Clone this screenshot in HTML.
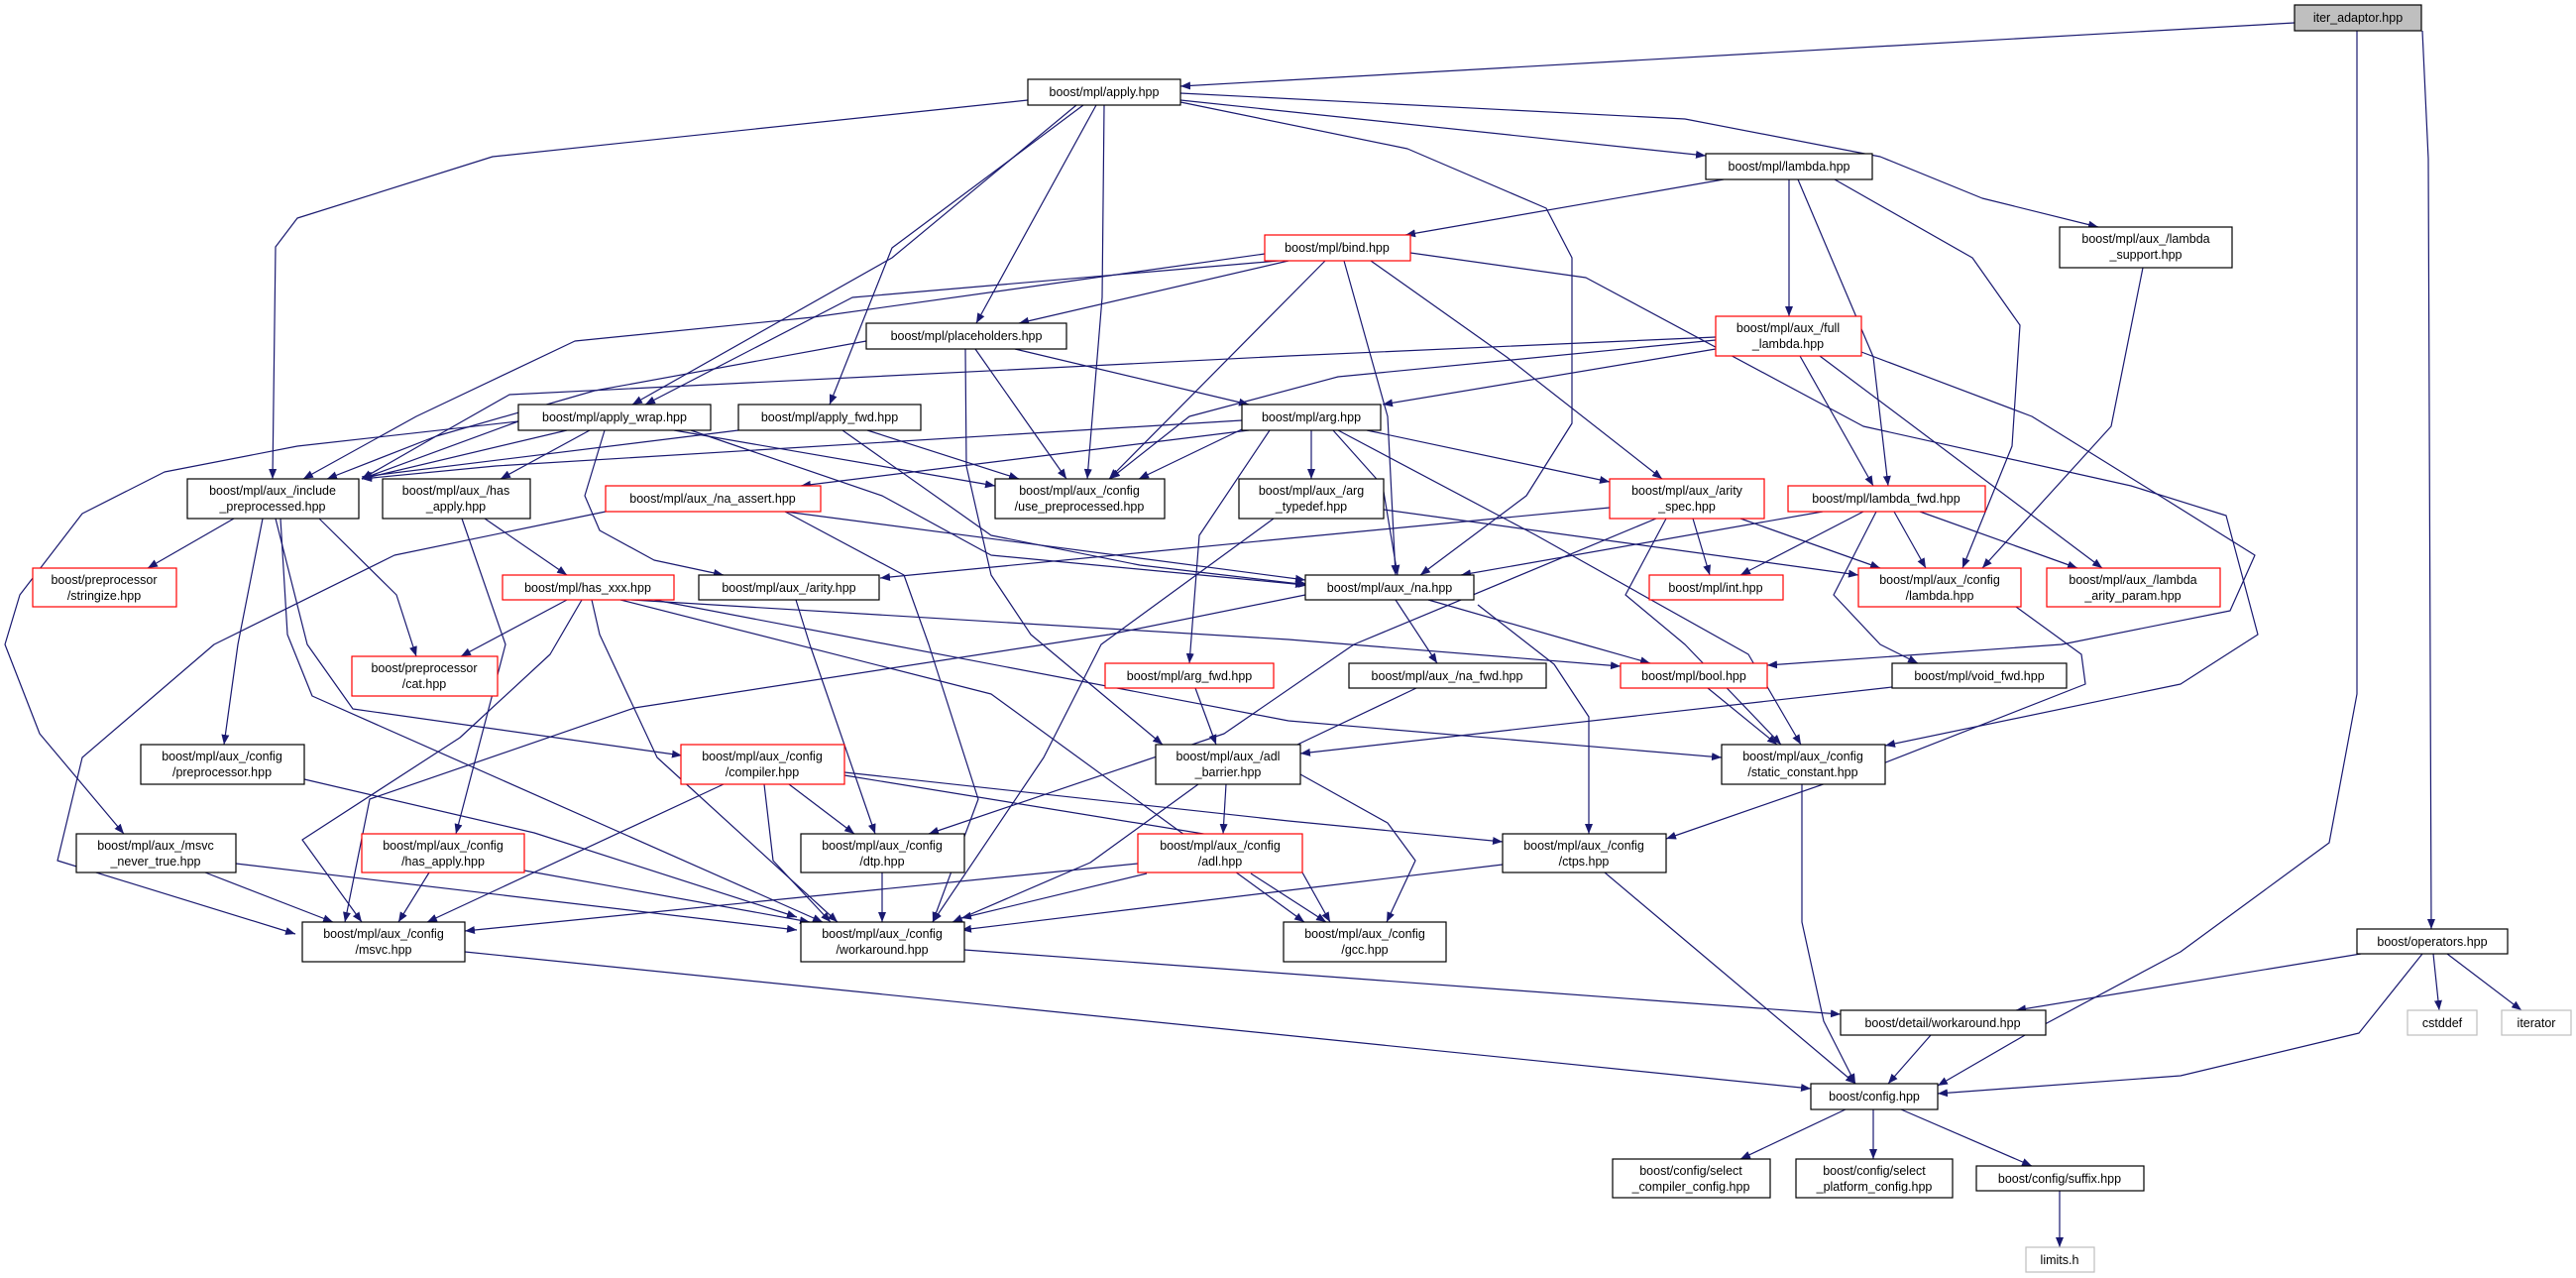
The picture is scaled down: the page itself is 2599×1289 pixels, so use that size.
<!DOCTYPE html>
<html><head><meta charset="utf-8"><style>
html,body{margin:0;padding:0;background:#fff}
svg{display:block}
text{font-family:"Liberation Sans",sans-serif;font-size:12.5px;fill:#000}
.e{fill:none;stroke:#191970;stroke-width:1.2;stroke-linejoin:round;marker-end:url(#a)}
.n{fill:#fff;stroke:#000;stroke-width:1.2}
.r{fill:#fff;stroke:#ff0000;stroke-width:1.2}
.g{fill:#fff;stroke:#bfbfbf;stroke-width:1.2}
</style></head><body>
<svg width="2599" height="1289" viewBox="0 0 2599 1289" xmlns="http://www.w3.org/2000/svg">
<defs><marker id="a" markerWidth="10" markerHeight="8" refX="10" refY="4" orient="auto" markerUnits="userSpaceOnUse"><path d="M0,0 L10,4 L0,8 z" fill="#191970"/></marker></defs>
<g>
<polyline class="e" points="2315,23 1191,87"/>
<polyline class="e" points="2378,31 2378,700 2350,850 2200,960 2050,1040 1955,1095"/>
<polyline class="e" points="2444,31 2450,160 2453,937"/>
<polyline class="e" points="1037,101 497,158 300,220 278,249 275,483"/>
<polyline class="e" points="1086,106 900,260 638,408"/>
<polyline class="e" points="1106,106 985,326"/>
<polyline class="e" points="1114,106 1112,300 1097,483"/>
<polyline class="e" points="1093,106 900,250 837,408"/>
<polyline class="e" points="1191,101 1721,157"/>
<polyline class="e" points="1191,103 1420,150 1560,210 1586,260 1586,427 1540,500 1433,580"/>
<polyline class="e" points="1191,94 1700,120 1897,158 2000,200 2117,229"/>
<polyline class="e" points="1739,181 1418,237"/>
<polyline class="e" points="1805,181 1805,319"/>
<polyline class="e" points="1814,181 1890,360 1905,490"/>
<polyline class="e" points="1851,181 1990,260 2038,328 2030,450 1980,573"/>
<polyline class="e" points="2162,270 2130,430 2000,573"/>
<polyline class="e" points="1300,263 1028,326"/>
<polyline class="e" points="1276,256 820,320 580,344 420,420 306,483"/>
<polyline class="e" points="1290,263 860,300 651,408"/>
<polyline class="e" points="1337,263 1119,483"/>
<polyline class="e" points="1356,263 1400,420 1408,580"/>
<polyline class="e" points="1383,263 1520,360 1677,483"/>
<polyline class="e" points="1423,255 1600,280 1880,430 2150,490 2246,520 2278,640 2200,690 1902,752"/>
<polyline class="e" points="874,344 600,394 440,440 330,483"/>
<polyline class="e" points="984,352 1076,483"/>
<polyline class="e" points="1024,352 1260,408"/>
<polyline class="e" points="974,352 975,470 1000,580 1040,640 1173,751"/>
<polyline class="e" points="1731,340 1300,359 514,398 440,440 365,483"/>
<polyline class="e" points="1731,343 1350,380 1200,420 1120,483"/>
<polyline class="e" points="1731,352 1395,408"/>
<polyline class="e" points="1816,359 1890,490"/>
<polyline class="e" points="1836,359 2121,573"/>
<polyline class="e" points="1878,355 2050,420 2179,500 2275,560 2250,616 2080,650 1783,671"/>
<polyline class="e" points="2034,612 2100,660 2104,690 1900,770 1681,846"/>
<polyline class="e" points="523,425 365,483"/>
<polyline class="e" points="572,434 365,483"/>
<polyline class="e" points="595,434 505,483"/>
<polyline class="e" points="610,434 590,500 605,535 660,565 730,580"/>
<polyline class="e" points="680,434 1004,490"/>
<polyline class="e" points="697,434 890,500 1000,560 1317,590"/>
<polyline class="e" points="523,425 300,450 166,476 83,518 20,600 5,650 40,740 125,841"/>
<polyline class="e" points="745,434 365,481"/>
<polyline class="e" points="875,434 1028,483"/>
<polyline class="e" points="850,434 1000,540 1150,570 1320,590"/>
<polyline class="e" points="1253,424 500,470 365,483"/>
<polyline class="e" points="1253,433 1149,483"/>
<polyline class="e" points="1260,434 808,490"/>
<polyline class="e" points="1323,434 1323,483"/>
<polyline class="e" points="1379,434 1624,486"/>
<polyline class="e" points="1345,434 1395,490 1410,580"/>
<polyline class="e" points="1281,434 1210,540 1200,669"/>
<polyline class="e" points="1350,434 1550,540 1764,660 1817,751"/>
<polyline class="e" points="236,523 149,573"/>
<polyline class="e" points="322,523 400,600 420,662"/>
<polyline class="e" points="265,523 240,650 226,751"/>
<polyline class="e" points="278,523 310,650 356,715 688,762"/>
<polyline class="e" points="283,523 290,640 315,702 830,930"/>
<polyline class="e" points="466,523 510,650 460,841"/>
<polyline class="e" points="489,523 572,580"/>
<polyline class="e" points="572,605 465,662"/>
<polyline class="e" points="587,605 555,660 464,744 305,847 365,930"/>
<polyline class="e" points="597,605 605,640 663,764 845,930"/>
<polyline class="e" points="626,605 1000,700 1316,930"/>
<polyline class="e" points="637,605 1300,645 1635,672"/>
<polyline class="e" points="660,605 1300,727 1737,764"/>
<polyline class="e" points="803,605 817,650 883,841"/>
<polyline class="e" points="611,516 398,560 216,650 83,764 58,868 298,942"/>
<polyline class="e" points="792,516 912,580 937,650 987,806 941,930"/>
<polyline class="e" points="792,516 1317,585"/>
<polyline class="e" points="1396,514 1875,580"/>
<polyline class="e" points="1285,523 1111,650 1053,764 941,930"/>
<polyline class="e" points="1624,512 1300,543 888,583"/>
<polyline class="e" points="1708,523 1725,580"/>
<polyline class="e" points="1756,523 1897,573"/>
<polyline class="e" points="1671,523 1366,650 1235,740 937,841"/>
<polyline class="e" points="1681,523 1640,600 1700,650 1797,751"/>
<polyline class="e" points="1839,516 1474,580"/>
<polyline class="e" points="1880,516 1756,580"/>
<polyline class="e" points="1911,516 1943,573"/>
<polyline class="e" points="1937,516 2096,573"/>
<polyline class="e" points="1893,516 1850,600 1897,650 1935,669"/>
<polyline class="e" points="1408,605 1450,669"/>
<polyline class="e" points="1441,605 1598,650 1665,669"/>
<polyline class="e" points="1491,610 1568,670 1603,723 1603,841"/>
<polyline class="e" points="1317,600 1119,640 640,714 373,806 348,930"/>
<polyline class="e" points="1723,694 1793,751"/>
<polyline class="e" points="1909,693 1312,760"/>
<polyline class="e" points="1429,694 1290,760"/>
<polyline class="e" points="1206,694 1227,751"/>
<polyline class="e" points="307,786 539,840 804,925"/>
<polyline class="e" points="730,791 431,930"/>
<polyline class="e" points="771,791 780,868 838,930"/>
<polyline class="e" points="796,791 862,841"/>
<polyline class="e" points="852,779 1300,828 1516,849"/>
<polyline class="e" points="852,782 1300,855 1342,930"/>
<polyline class="e" points="207,880 336,930"/>
<polyline class="e" points="238,871 804,938"/>
<polyline class="e" points="433,880 402,930"/>
<polyline class="e" points="529,878 817,930"/>
<polyline class="e" points="890,880 890,930"/>
<polyline class="e" points="1148,871 469,939"/>
<polyline class="e" points="1157,881 970,926"/>
<polyline class="e" points="1262,881 1338,930"/>
<polyline class="e" points="1237,791 1234,841"/>
<polyline class="e" points="1209,791 1100,870 961,930"/>
<polyline class="e" points="1312,781 1400,830 1428,868 1399,930"/>
<polyline class="e" points="1516,872 1300,898 970,938"/>
<polyline class="e" points="1619,880 1872,1093"/>
<polyline class="e" points="1818,791 1818,930 1840,1030 1872,1093"/>
<polyline class="e" points="469,960 1827,1098"/>
<polyline class="e" points="973,958 1857,1023"/>
<polyline class="e" points="2382,962 2034,1019"/>
<polyline class="e" points="2455,962 2461,1019"/>
<polyline class="e" points="2469,962 2544,1019"/>
<polyline class="e" points="2444,962 2380,1042 2200,1085 1955,1103"/>
<polyline class="e" points="1948,1044 1905,1093"/>
<polyline class="e" points="1862,1119 1756,1169"/>
<polyline class="e" points="1890,1119 1890,1169"/>
<polyline class="e" points="1918,1119 2050,1176"/>
<polyline class="e" points="2078,1201 2078,1258"/>
</g>
<g text-anchor="middle">
<rect x="2315" y="5" width="128" height="26" fill="#bfbfbf" stroke="#000" stroke-width="1.2"/><text x="2379" y="22">iter_adaptor.hpp</text>
<rect class="n" x="1037" y="80" width="154" height="26"/><text x="1114" y="97">boost/mpl/apply.hpp</text>
<rect class="n" x="1721" y="155" width="168" height="26"/><text x="1805" y="172">boost/mpl/lambda.hpp</text>
<rect class="n" x="2078" y="229" width="174" height="41"/><text x="2165" y="245">boost/mpl/aux_/lambda</text><text x="2165" y="261">_support.hpp</text>
<rect class="r" x="1276" y="237" width="147" height="26"/><text x="1349" y="254">boost/mpl/bind.hpp</text>
<rect class="n" x="874" y="326" width="202" height="26"/><text x="975" y="343">boost/mpl/placeholders.hpp</text>
<rect class="r" x="1731" y="319" width="147" height="40"/><text x="1804" y="335">boost/mpl/aux_/full</text><text x="1804" y="351">_lambda.hpp</text>
<rect class="n" x="523" y="408" width="194" height="26"/><text x="620" y="425">boost/mpl/apply_wrap.hpp</text>
<rect class="n" x="745" y="408" width="184" height="26"/><text x="837" y="425">boost/mpl/apply_fwd.hpp</text>
<rect class="n" x="1253" y="408" width="140" height="26"/><text x="1323" y="425">boost/mpl/arg.hpp</text>
<rect class="n" x="189" y="483" width="173" height="40"/><text x="275" y="499">boost/mpl/aux_/include</text><text x="275" y="515">_preprocessed.hpp</text>
<rect class="n" x="386" y="483" width="149" height="40"/><text x="460" y="499">boost/mpl/aux_/has</text><text x="460" y="515">_apply.hpp</text>
<rect class="n" x="1004" y="483" width="171" height="40"/><text x="1089" y="499">boost/mpl/aux_/config</text><text x="1089" y="515">/use_preprocessed.hpp</text>
<rect class="r" x="611" y="490" width="217" height="26"/><text x="719" y="507">boost/mpl/aux_/na_assert.hpp</text>
<rect class="n" x="1250" y="483" width="146" height="40"/><text x="1323" y="499">boost/mpl/aux_/arg</text><text x="1323" y="515">_typedef.hpp</text>
<rect class="r" x="1624" y="483" width="156" height="40"/><text x="1702" y="499">boost/mpl/aux_/arity</text><text x="1702" y="515">_spec.hpp</text>
<rect class="r" x="1804" y="490" width="199" height="26"/><text x="1903" y="507">boost/mpl/lambda_fwd.hpp</text>
<rect class="r" x="33" y="573" width="145" height="39"/><text x="105" y="589">boost/preprocessor</text><text x="105" y="605">/stringize.hpp</text>
<rect class="r" x="507" y="580" width="173" height="25"/><text x="593" y="597">boost/mpl/has_xxx.hpp</text>
<rect class="n" x="705" y="580" width="182" height="25"/><text x="796" y="597">boost/mpl/aux_/arity.hpp</text>
<rect class="n" x="1317" y="580" width="170" height="25"/><text x="1402" y="597">boost/mpl/aux_/na.hpp</text>
<rect class="r" x="1664" y="580" width="135" height="25"/><text x="1731" y="597">boost/mpl/int.hpp</text>
<rect class="r" x="1875" y="573" width="164" height="39"/><text x="1957" y="589">boost/mpl/aux_/config</text><text x="1957" y="605">/lambda.hpp</text>
<rect class="r" x="2065" y="573" width="175" height="39"/><text x="2152" y="589">boost/mpl/aux_/lambda</text><text x="2152" y="605">_arity_param.hpp</text>
<rect class="r" x="355" y="662" width="147" height="40"/><text x="428" y="678">boost/preprocessor</text><text x="428" y="694">/cat.hpp</text>
<rect class="r" x="1115" y="669" width="170" height="25"/><text x="1200" y="686">boost/mpl/arg_fwd.hpp</text>
<rect class="n" x="1361" y="669" width="199" height="25"/><text x="1460" y="686">boost/mpl/aux_/na_fwd.hpp</text>
<rect class="r" x="1635" y="669" width="148" height="25"/><text x="1709" y="686">boost/mpl/bool.hpp</text>
<rect class="n" x="1909" y="669" width="176" height="25"/><text x="1997" y="686">boost/mpl/void_fwd.hpp</text>
<rect class="n" x="142" y="751" width="165" height="40"/><text x="224" y="767">boost/mpl/aux_/config</text><text x="224" y="783">/preprocessor.hpp</text>
<rect class="r" x="687" y="751" width="165" height="40"/><text x="769" y="767">boost/mpl/aux_/config</text><text x="769" y="783">/compiler.hpp</text>
<rect class="n" x="1166" y="751" width="146" height="40"/><text x="1239" y="767">boost/mpl/aux_/adl</text><text x="1239" y="783">_barrier.hpp</text>
<rect class="n" x="1737" y="751" width="165" height="40"/><text x="1819" y="767">boost/mpl/aux_/config</text><text x="1819" y="783">/static_constant.hpp</text>
<rect class="n" x="77" y="841" width="161" height="39"/><text x="157" y="857">boost/mpl/aux_/msvc</text><text x="157" y="873">_never_true.hpp</text>
<rect class="r" x="365" y="841" width="164" height="39"/><text x="447" y="857">boost/mpl/aux_/config</text><text x="447" y="873">/has_apply.hpp</text>
<rect class="n" x="808" y="841" width="165" height="39"/><text x="890" y="857">boost/mpl/aux_/config</text><text x="890" y="873">/dtp.hpp</text>
<rect class="r" x="1148" y="841" width="166" height="39"/><text x="1231" y="857">boost/mpl/aux_/config</text><text x="1231" y="873">/adl.hpp</text>
<rect class="n" x="1516" y="841" width="165" height="39"/><text x="1598" y="857">boost/mpl/aux_/config</text><text x="1598" y="873">/ctps.hpp</text>
<rect class="n" x="305" y="930" width="164" height="40"/><text x="387" y="946">boost/mpl/aux_/config</text><text x="387" y="962">/msvc.hpp</text>
<rect class="n" x="808" y="930" width="165" height="40"/><text x="890" y="946">boost/mpl/aux_/config</text><text x="890" y="962">/workaround.hpp</text>
<rect class="n" x="1295" y="930" width="164" height="40"/><text x="1377" y="946">boost/mpl/aux_/config</text><text x="1377" y="962">/gcc.hpp</text>
<rect class="n" x="2378" y="937" width="152" height="25"/><text x="2454" y="954">boost/operators.hpp</text>
<rect class="n" x="1857" y="1019" width="207" height="25"/><text x="1960" y="1036">boost/detail/workaround.hpp</text>
<rect class="g" x="2429" y="1019" width="70" height="25"/><text x="2464" y="1036" fill="#000">cstddef</text>
<rect class="g" x="2524" y="1019" width="70" height="25"/><text x="2559" y="1036">iterator</text>
<rect class="n" x="1827" y="1093" width="128" height="26"/><text x="1891" y="1110">boost/config.hpp</text>
<rect class="n" x="1627" y="1169" width="159" height="39"/><text x="1706" y="1185">boost/config/select</text><text x="1706" y="1201">_compiler_config.hpp</text>
<rect class="n" x="1812" y="1169" width="158" height="39"/><text x="1891" y="1185">boost/config/select</text><text x="1891" y="1201">_platform_config.hpp</text>
<rect class="n" x="1994" y="1176" width="169" height="25"/><text x="2078" y="1193">boost/config/suffix.hpp</text>
<rect class="g" x="2044" y="1258" width="69" height="25"/><text x="2078" y="1275">limits.h</text>
</g>
</svg>
</body></html>
